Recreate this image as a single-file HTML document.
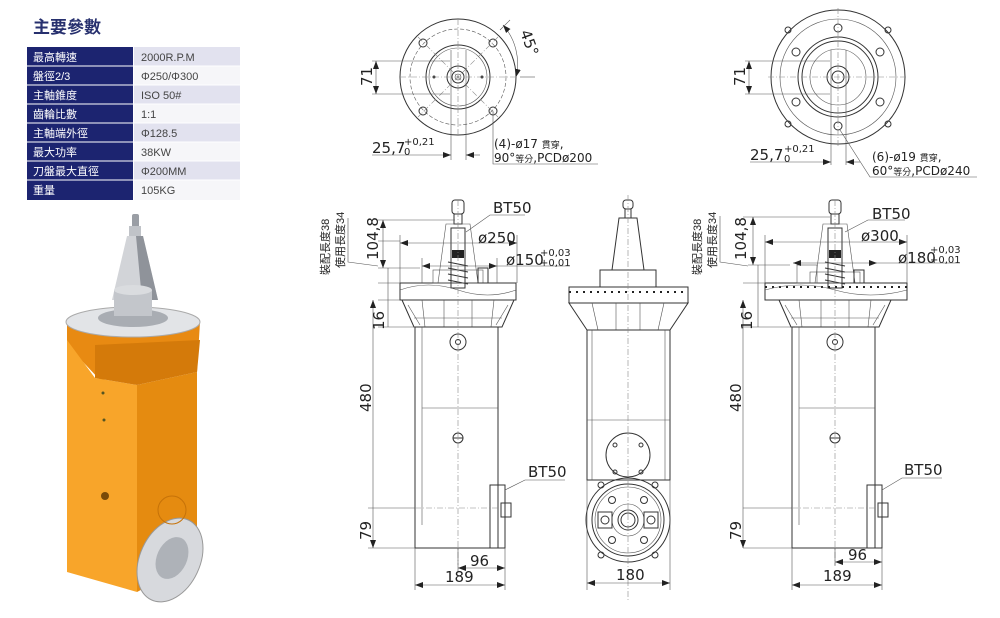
<!DOCTYPE html>
<html><head><meta charset="utf-8"><style>
html,body{margin:0;padding:0;background:#fff}
svg{display:block}
.l{fill:none;stroke:#333;stroke-width:1}
.t{stroke:#555;stroke-width:.6;fill:none}
.c{fill:none;stroke:#888;stroke-width:.6;stroke-dasharray:6 2 1 2}
.tx{font-family:"DejaVu Sans","Noto Sans CJK TC",sans-serif;fill:#222;font-size:15px}
.sm{font-family:"DejaVu Sans","Noto Sans CJK TC",sans-serif;fill:#222;font-size:10px}
.note{font-family:"DejaVu Sans","Noto Sans CJK TC",sans-serif;fill:#222;font-size:12px}
.cj{font-family:"Liberation Sans","Noto Sans CJK TC",sans-serif}
</style></head><body>
<svg width="1000" height="618" viewBox="0 0 1000 618" xmlns="http://www.w3.org/2000/svg">
<defs>
<marker id="a" markerWidth="8" markerHeight="6" refX="8" refY="3" orient="auto-start-reverse" markerUnits="userSpaceOnUse"><path d="M0,0L8,3L0,6z" fill="#222"/></marker>
</defs>
<text x="33" y="33" class="cj" font-size="17" font-weight="bold" fill="#27306e">主要參數</text>
<g class="cj" font-size="11">
<rect x="27" y="47" width="106" height="153" fill="#1c2470"/>
<rect x="134" y="47" width="106" height="19" fill="#e2e2ef"/>
<rect x="134" y="66" width="106" height="19" fill="#f6f6f9"/>
<rect x="134" y="85" width="106" height="19" fill="#e2e2ef"/>
<rect x="134" y="104" width="106" height="19" fill="#f6f6f9"/>
<rect x="134" y="123" width="106" height="19" fill="#e2e2ef"/>
<rect x="134" y="142" width="106" height="19" fill="#f6f6f9"/>
<rect x="134" y="161" width="106" height="19" fill="#e2e2ef"/>
<rect x="134" y="180" width="106" height="20" fill="#f6f6f9"/>
<g stroke="#fff" stroke-width="1"><line x1="27" y1="66" x2="240" y2="66"/><line x1="27" y1="85" x2="240" y2="85"/><line x1="27" y1="104" x2="240" y2="104"/><line x1="27" y1="123" x2="240" y2="123"/><line x1="27" y1="142" x2="240" y2="142"/><line x1="27" y1="161" x2="240" y2="161"/><line x1="27" y1="180" x2="240" y2="180"/></g>
<g fill="#fff"><text x="33" y="61">最高轉速</text><text x="33" y="80">盤徑2/3</text><text x="33" y="99">主軸錐度</text><text x="33" y="118">齒輪比數</text><text x="33" y="137">主軸端外徑</text><text x="33" y="156">最大功率</text><text x="33" y="175">刀盤最大直徑</text><text x="33" y="194">重量</text></g>
<g fill="#444"><text x="141" y="61">2000R.P.M</text><text x="141" y="80">Φ250/Φ300</text><text x="141" y="99">ISO 50#</text><text x="141" y="118">1:1</text><text x="141" y="137">Φ128.5</text><text x="141" y="156">38KW</text><text x="141" y="175">Φ200MM</text><text x="141" y="194">105KG</text></g>
</g>
<!-- photo -->
<g>
<rect x="132" y="214" width="7" height="14" rx="2" fill="#9a9ea5"/>
<rect x="129" y="226" width="12" height="10" fill="#c0c3c8"/>
<polygon points="127,236 143,236 158,300 112,300" fill="#d2d4d8"/>
<polygon points="136,236 143,236 158,300 142,300" fill="#8f939a"/>
<polygon points="67,322 67,345 100,380 197,372 200,322" fill="#e88a12"/>
<polygon points="67,340 95,378 137,385 137,592 67,572" fill="#f8a52a"/>
<polygon points="137,385 197,372 197,560 137,592" fill="#e58b10"/>
<polygon points="95,345 200,340 197,372 137,385 95,378" fill="#d47a0a"/>
<ellipse cx="133" cy="322" rx="67" ry="15" fill="#e2e4e7" stroke="#aaa"/>
<ellipse cx="133" cy="318" rx="35" ry="9" fill="#a9adb3"/>
<rect x="114" y="290" width="38" height="26" fill="#c3c6cb"/>
<ellipse cx="133" cy="290" rx="19" ry="5" fill="#dadcdf"/>
<ellipse cx="170" cy="560" rx="30" ry="44" transform="rotate(25 170 560)" fill="#d7d9dd" stroke="#999"/>
<ellipse cx="172" cy="558" rx="15" ry="22" transform="rotate(25 172 558)" fill="#aeb2b8"/>
<circle cx="105" cy="496" r="4" fill="#7a4a08"/>
<circle cx="103" cy="393" r="1.5" fill="#552"/><circle cx="104" cy="420" r="1.5" fill="#552"/>
<circle cx="172" cy="510" r="14" fill="none" stroke="#c67208"/>
</g>
<!-- top view 1 -->
<g>
<circle cx="458" cy="77" r="58" class="l"/>
<circle cx="458" cy="77" r="48" class="t" stroke-dasharray="4 2"/>
<circle cx="458" cy="77" r="32" class="l" stroke-width="1.5"/>
<circle cx="458" cy="77" r="29" class="t"/>
<circle cx="458" cy="77" r="11" class="l"/><circle cx="458" cy="77" r="6" class="l"/><circle cx="458" cy="77" r="3" class="t"/>
<circle cx="423" cy="43" r="4" class="l"/><circle cx="493" cy="43" r="4" class="l"/><circle cx="423" cy="111" r="4" class="l"/><circle cx="493" cy="111" r="4" class="l"/>
<circle cx="434" cy="77" r="1.5" fill="#333"/><circle cx="482" cy="77" r="1.5" fill="#333"/>
<line x1="400" y1="77" x2="516" y2="77" class="c"/><line x1="458" y1="19" x2="458" y2="135" class="c"/>
<line x1="418" y1="37" x2="498" y2="117" class="c"/><line x1="498" y1="37" x2="418" y2="117" class="c"/>
<line x1="451" y1="50" x2="451" y2="160" class="t"/><line x1="466" y1="50" x2="466" y2="160" class="t"/>
<line x1="372" y1="61" x2="450" y2="61" class="t"/><line x1="372" y1="94" x2="450" y2="94" class="t"/>
<line x1="376" y1="61" x2="376" y2="94" class="t" marker-start="url(#a)" marker-end="url(#a)"/>
<text class="tx" transform="translate(372 86) rotate(-90)">71</text>
<line x1="372" y1="155" x2="451" y2="155" class="t" marker-end="url(#a)"/><line x1="480" y1="155" x2="466" y2="155" class="t" marker-end="url(#a)"/>
<text x="372" y="153" class="tx">25,7</text><text x="404" y="145" class="sm">+0,21</text><text x="404" y="155" class="sm">0</text>
<path d="M503,25 A58,58 0 0 1 516,77" class="t" marker-start="url(#a)" marker-end="url(#a)"/>
<line x1="500" y1="30" x2="510" y2="20" class="t"/><line x1="520" y1="77" x2="535" y2="77" class="t"/>
<text class="tx" transform="translate(520 32) rotate(70)">45°</text>
<polyline points="493,111 493,164 598,164" class="t"/>
<text x="494" y="148" class="note">(4)-ø17 <tspan class="cj" style="font-size:9px">貫穿</tspan>,</text>
<text x="494" y="162" class="note">90°<tspan class="cj" style="font-size:9px">等分</tspan>,PCDø200</text>
</g>
<!-- top view 2 -->
<g>
<circle cx="838" cy="77" r="67" class="l"/>
<circle cx="838" cy="77" r="58" class="t"/>
<circle cx="838" cy="77" r="40" class="l" stroke-width="1.5"/>
<circle cx="838" cy="77" r="36" class="l"/>
<circle cx="838" cy="77" r="28" class="t"/>
<circle cx="838" cy="77" r="11" class="l"/><circle cx="838" cy="77" r="6" class="l"/>
<circle cx="796" cy="52" r="4" class="l"/><circle cx="880" cy="52" r="4" class="l"/><circle cx="796" cy="102" r="4" class="l"/><circle cx="880" cy="102" r="4" class="l"/><circle cx="838" cy="28" r="4" class="l"/><circle cx="838" cy="126" r="4" class="l"/>
<circle cx="788" cy="30" r="3" class="l"/><circle cx="888" cy="30" r="3" class="l"/><circle cx="788" cy="124" r="3" class="l"/><circle cx="888" cy="124" r="3" class="l"/>
<line x1="768" y1="77" x2="908" y2="77" class="c"/><line x1="838" y1="8" x2="838" y2="146" class="c"/>
<line x1="831" y1="50" x2="831" y2="165" class="t"/><line x1="846" y1="50" x2="846" y2="165" class="t"/>
<line x1="745" y1="61" x2="830" y2="61" class="t"/><line x1="745" y1="94" x2="830" y2="94" class="t"/>
<line x1="749" y1="61" x2="749" y2="94" class="t" marker-start="url(#a)" marker-end="url(#a)"/>
<text class="tx" transform="translate(745 86) rotate(-90)">71</text>
<line x1="750" y1="162" x2="831" y2="162" class="t" marker-end="url(#a)"/><line x1="860" y1="162" x2="846" y2="162" class="t" marker-end="url(#a)"/>
<text x="750" y="160" class="tx">25,7</text><text x="784" y="152" class="sm">+0,21</text><text x="784" y="162" class="sm">0</text>
<polyline points="840,130 870,177 977,177" class="t"/>
<text x="872" y="161" class="note">(6)-ø19 <tspan class="cj" style="font-size:9px">貫穿</tspan>,</text>
<text x="872" y="175" class="note">60°<tspan class="cj" style="font-size:9px">等分</tspan>,PCDø240</text>
</g>
<defs>
<g id="tool">
<rect x="-6" y="200" width="12" height="14" rx="3" class="l"/>
<rect x="-4" y="214" width="8" height="10" class="l"/>
<polygon points="-12,224 12,224 20,283 -20,283" class="t"/>
<rect x="-7" y="228" width="14" height="60" class="l"/>
<rect x="-6" y="250" width="12" height="8" fill="#222"/>
<path d="M-10,262 L10,266 M-10,268 L10,272 M-10,274 L10,278 M-10,280 L10,284" class="l"/>
</g>
<g id="bodyA">
<polygon points="-56,300 -44,327 44,327 56,300" class="l"/>
<path d="M-36,300 L-33,327 M-14,300 L-14,327 M14,300 L14,327 M36,300 L33,327 M-44,318 L44,318" class="t"/>
<path d="M-50,305 L-38,325 M50,305 L38,325" class="t"/>
<rect x="-43" y="327" width="83" height="221" class="l"/>
<line x1="-36" y1="327" x2="-36" y2="525" class="t"/>
<line x1="-36" y1="408" x2="40" y2="408" class="t"/>
<circle cx="0" cy="342" r="8" class="l"/><circle cx="0" cy="342" r="2.5" class="l"/>
<circle cx="0" cy="438" r="5" class="l"/><line x1="-5" y1="438" x2="5" y2="438" class="l"/>
<rect x="32" y="485" width="15" height="63" class="l"/>
<rect x="43" y="503" width="10" height="14" class="l"/>
<line x1="0" y1="200" x2="0" y2="565" class="c"/>
<line x1="-43" y1="508" x2="40" y2="508" class="c"/>
</g>
</defs>
<g transform="translate(458 0)">
<use href="#tool"/>
<rect x="-58" y="283" width="116" height="17" class="l"/>
<path d="M-58,290 Q-30,280 0,290 Q30,300 58,290" class="t"/>
<rect x="-25" y="270" width="50" height="13" class="t"/>
<rect x="20" y="268" width="10" height="15" class="l"/>
<use href="#bodyA"/>
</g>
<g transform="translate(628 0)">
<rect x="-5" y="200" width="10" height="9" rx="3" class="l"/>
<rect x="-3" y="209" width="6" height="9" class="l"/>
<polygon points="-9,218 9,218 16,270 -16,270" class="l"/>
<rect x="-28" y="270" width="56" height="17" class="l"/>
<rect x="-59" y="287" width="119" height="16" class="l"/>
<line x1="-59" y1="292" x2="60" y2="292" stroke="#222" stroke-width="2" stroke-dasharray="2 5"/>
<polygon points="-59,303 -41,330 42,330 60,303" class="l"/>
<path d="M-36,303 L-30,330 M-12,303 L-12,330 M12,303 L12,330 M36,303 L30,330" class="t"/>
<rect x="-41" y="330" width="83" height="150" class="l"/>
<line x1="-36" y1="330" x2="-36" y2="480" class="t"/><line x1="37" y1="330" x2="37" y2="480" class="t"/>
<line x1="-41" y1="420" x2="42" y2="420" class="t"/>
<circle cx="0" cy="455" r="22" class="l"/>
<circle cx="-13" cy="445" r="2" class="l"/><circle cx="13" cy="445" r="2" class="l"/><circle cx="-13" cy="472" r="2" class="l"/><circle cx="13" cy="472" r="2" class="l"/>
<circle cx="0" cy="520" r="42" class="l"/>
<circle cx="0" cy="520" r="36" class="l" stroke-width="1.5"/>
<circle cx="0" cy="520" r="33" class="t"/>
<circle cx="0" cy="520" r="16" class="t"/><circle cx="0" cy="520" r="10" class="l"/><circle cx="0" cy="520" r="7" class="l"/>
<circle cx="-27" cy="485" r="3" class="l"/><circle cx="27" cy="485" r="3" class="l"/><circle cx="-27" cy="555" r="3" class="l"/><circle cx="27" cy="555" r="3" class="l"/>
<circle cx="-16" cy="500" r="3.5" class="l"/><circle cx="16" cy="500" r="3.5" class="l"/><circle cx="-16" cy="540" r="3.5" class="l"/><circle cx="16" cy="540" r="3.5" class="l"/>
<rect x="-30" y="512" width="14" height="16" class="l"/><rect x="16" y="512" width="14" height="16" class="l"/>
<circle cx="-23" cy="520" r="4" class="l"/><circle cx="23" cy="520" r="4" class="l"/>
<line x1="0" y1="195" x2="0" y2="600" class="c"/>
<line x1="-41" y1="480" x2="-41" y2="590" class="t"/><line x1="42" y1="480" x2="42" y2="590" class="t"/>
<line x1="-41" y1="583" x2="42" y2="583" class="t" marker-start="url(#a)" marker-end="url(#a)"/>
<text x="-12" y="580" class="tx">180</text>
</g>
<g transform="translate(835 0)">
<use href="#tool"/>
<rect x="-70" y="283" width="142" height="17" class="l"/>
<line x1="-70" y1="287" x2="72" y2="287" stroke="#222" stroke-width="2" stroke-dasharray="2 5"/>
<path d="M-70,290 Q-35,280 0,290 Q35,300 72,290" class="t"/>
<rect x="-38" y="265" width="20" height="18" class="t"/>
<rect x="-25" y="272" width="50" height="11" class="t"/>
<rect x="19" y="270" width="10" height="13" class="l"/>
<use href="#bodyA"/>
</g>
<g>
<line x1="378" y1="220" x2="455" y2="220" class="t"/>
<line x1="378" y1="241" x2="400" y2="241" class="t"/>
<line x1="378" y1="268" x2="420" y2="268" class="t"/>
<line x1="378" y1="283" x2="400" y2="283" class="t"/>
<line x1="378" y1="300" x2="400" y2="300" class="t"/>
<line x1="378" y1="327" x2="415" y2="327" class="t"/>
<line x1="368" y1="508" x2="415" y2="508" class="t"/>
<line x1="368" y1="548" x2="415" y2="548" class="t"/>
<line x1="383" y1="220" x2="383" y2="268" class="t" marker-start="url(#a)" marker-end="url(#a)"/>
<line x1="388" y1="268" x2="388" y2="327" class="t"/>
<line x1="373" y1="300" x2="373" y2="548" class="t" marker-start="url(#a)" marker-end="url(#a)"/>
<text class="tx" transform="translate(378 260) rotate(-90)">104,8</text>
<text class="tx" transform="translate(384 330) rotate(-90)">16</text>
<text class="tx" transform="translate(371 412) rotate(-90)">480</text>
<text class="tx" transform="translate(371 540) rotate(-90)">79</text>
<text class="cj" font-size="11" fill="#222" transform="translate(329 275) rotate(-90)">裝配長度38</text>
<text class="cj" font-size="11" fill="#222" transform="translate(344 268) rotate(-90)">使用長度34</text>
<polyline points="348,218 348,262 378,266" class="t"/>
<line x1="400" y1="243" x2="517" y2="243" class="t" marker-start="url(#a)" marker-end="url(#a)"/>
<line x1="517" y1="235" x2="517" y2="283" class="t"/><line x1="400" y1="235" x2="400" y2="283" class="t"/>
<text x="478" y="243" class="tx">ø250</text>
<line x1="422" y1="266" x2="497" y2="266" class="t" marker-start="url(#a)" marker-end="url(#a)"/>
<line x1="497" y1="266" x2="570" y2="266" class="t"/>
<line x1="422" y1="258" x2="422" y2="283" class="t"/><line x1="497" y1="258" x2="497" y2="283" class="t"/>
<text x="506" y="265" class="tx">ø150</text><text x="540" y="256" class="sm">+0,03</text><text x="540" y="266" class="sm">+0,01</text>
<polyline points="466,232 490,215 525,215" class="t"/><text x="493" y="213" class="tx">BT50</text>
<polyline points="505,490 525,480 565,480" class="t"/><text x="528" y="477" class="tx">BT50</text>
<line x1="415" y1="548" x2="415" y2="590" class="t"/><line x1="505" y1="548" x2="505" y2="590" class="t"/><line x1="458" y1="548" x2="458" y2="572" class="t"/>
<line x1="458" y1="568" x2="505" y2="568" class="t" marker-start="url(#a)" marker-end="url(#a)"/>
<text x="470" y="566" class="tx">96</text>
<line x1="415" y1="585" x2="505" y2="585" class="t" marker-start="url(#a)" marker-end="url(#a)"/>
<text x="445" y="582" class="tx">189</text>
</g>
<g>
<line x1="743" y1="217" x2="830" y2="217" class="t"/>
<line x1="748" y1="265" x2="790" y2="265" class="t"/>
<line x1="743" y1="283" x2="765" y2="283" class="t"/>
<line x1="743" y1="327" x2="792" y2="327" class="t"/>
<line x1="743" y1="508" x2="792" y2="508" class="t"/>
<line x1="743" y1="548" x2="792" y2="548" class="t"/>
<line x1="753" y1="217" x2="753" y2="265" class="t" marker-start="url(#a)" marker-end="url(#a)"/>
<line x1="758" y1="265" x2="758" y2="327" class="t"/>
<line x1="743" y1="300" x2="743" y2="548" class="t" marker-start="url(#a)" marker-end="url(#a)"/>
<text class="tx" transform="translate(746 260) rotate(-90)">104,8</text>
<text class="tx" transform="translate(752 330) rotate(-90)">16</text>
<text class="tx" transform="translate(741 412) rotate(-90)">480</text>
<text class="tx" transform="translate(741 540) rotate(-90)">79</text>
<text class="cj" font-size="11" fill="#222" transform="translate(701 275) rotate(-90)">裝配長度38</text>
<text class="cj" font-size="11" fill="#222" transform="translate(716 268) rotate(-90)">使用長度34</text>
<polyline points="720,216 720,262 748,266" class="t"/>
<line x1="765" y1="242" x2="907" y2="242" class="t" marker-start="url(#a)" marker-end="url(#a)"/>
<line x1="765" y1="235" x2="765" y2="283" class="t"/><line x1="907" y1="235" x2="907" y2="283" class="t"/>
<text x="861" y="241" class="tx">ø300</text>
<line x1="793" y1="263" x2="877" y2="263" class="t" marker-start="url(#a)" marker-end="url(#a)"/>
<line x1="877" y1="263" x2="960" y2="263" class="t"/>
<text x="898" y="263" class="tx">ø180</text><text x="930" y="253" class="sm">+0,03</text><text x="930" y="263" class="sm">+0,01</text>
<polyline points="845,232 868,220 905,220" class="t"/><text x="872" y="219" class="tx">BT50</text>
<polyline points="882,490 902,478 942,478" class="t"/><text x="904" y="475" class="tx">BT50</text>
<line x1="792" y1="548" x2="792" y2="590" class="t"/><line x1="882" y1="548" x2="882" y2="590" class="t"/><line x1="835" y1="548" x2="835" y2="566" class="t"/>
<line x1="835" y1="562" x2="882" y2="562" class="t" marker-start="url(#a)" marker-end="url(#a)"/>
<text x="848" y="560" class="tx">96</text>
<line x1="792" y1="585" x2="882" y2="585" class="t" marker-start="url(#a)" marker-end="url(#a)"/>
<text x="823" y="581" class="tx">189</text>
</g>
</svg>
</body></html>
